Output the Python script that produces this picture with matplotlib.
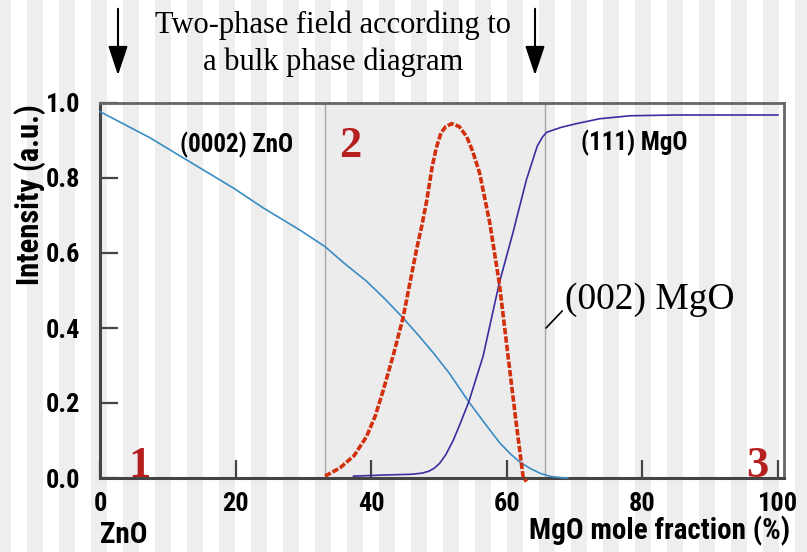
import matplotlib
matplotlib.use("Agg")
import matplotlib.pyplot as plt
from matplotlib import font_manager
from matplotlib.patches import Rectangle, FancyArrowPatch

# ---------------- data ----------------
zno_x = [0, 7.4, 12.8, 19.7, 24.1, 29.5, 33.2, 36, 39.3, 42, 44.7, 47, 49.2, 51.5, 54.4, 57, 59, 60.5, 61.9, 63.5, 65, 66.5, 68, 69]
zno_y = [0.977, 0.907, 0.848, 0.773, 0.72, 0.661, 0.617, 0.573, 0.525, 0.478, 0.427, 0.38, 0.333, 0.28, 0.203, 0.14, 0.093, 0.065, 0.043, 0.025, 0.012, 0.004, 0.001, 0.0]

mid_x = [33.2, 35.4, 37.5, 39.3, 40.6, 41.8, 43.3, 44.7, 46.7, 47.5, 48.2, 49.0, 49.6, 50.3, 51.0, 51.9, 53.0, 54.1, 55.0, 56.0, 57.5, 58.9, 60.2, 61.4, 62.4, 62.9]
mid_y = [0.005, 0.027, 0.06, 0.11, 0.165, 0.235, 0.33, 0.427, 0.61, 0.675, 0.74, 0.83, 0.88, 0.92, 0.937, 0.945, 0.937, 0.91, 0.87, 0.813, 0.68, 0.52, 0.324, 0.146, 0.005, -0.01]

mgo_x = [37.4, 42, 46, 47.5, 48.5, 49.3, 50.1, 51.0, 52.1, 53.2, 54.4, 56.5, 58.9, 60.9, 62.9, 64.5, 65.3, 65.9, 68, 70.3, 73.7, 78.2, 85, 90, 100]
mgo_y = [0.005, 0.008, 0.01, 0.013, 0.018, 0.026, 0.039, 0.062, 0.10, 0.148, 0.203, 0.324, 0.52, 0.653, 0.795, 0.885, 0.91, 0.922, 0.935, 0.945, 0.958, 0.966, 0.968, 0.968, 0.968]

two_phase = (33.2, 65.6)
xticks = [0, 20, 40, 60, 80, 100]
yticks = [0.0, 0.2, 0.4, 0.6, 0.8, 1.0]

# pick a condensed sans if one is installed
_names = {f.name for f in font_manager.fontManager.ttflist}
_cands = ['Liberation Sans Narrow', 'DejaVu Sans Condensed', 'Roboto Condensed', 'Open Sans Condensed',
          'Noto Sans Condensed', 'Liberation Sans', 'DejaVu Sans']
narrow_name = next(n for n in _cands if n in _names or n == 'DejaVu Sans')
is_condensed = narrow_name not in ('Liberation Sans', 'DejaVu Sans')
narrow = [narrow_name, 'DejaVu Sans']
k = 1.0 if is_condensed else 0.85
serif = ['Liberation Serif', 'DejaVu Serif']

fig = plt.figure(figsize=(8.07, 5.52), dpi=100)
fig.patch.set_facecolor('white')

# striped background
W = 807
s = -5
while s < W:
    fig.add_artist(Rectangle((s / W, 0), 16 / W, 1, transform=fig.transFigure,
                             facecolor='#eeeeee', edgecolor='none', zorder=-10))
    s += 32

ax = fig.add_axes([100 / 807, 74 / 552, 684 / 807, 375 / 552])
ax.set_facecolor('none')
ax.set_xlim(0, 100.9)
ax.set_ylim(0, 1.0)

ax.axvspan(two_phase[0], two_phase[1], facecolor='#ececec', edgecolor='#a8a8a8', lw=1.0, zorder=1)

ax.plot(zno_x, zno_y, color='#3a8cc2', lw=1.2, zorder=3, clip_on=False)
ax.plot(mgo_x, mgo_y, color='#3a2e9e', lw=1.2, zorder=3)
ax.plot(mid_x, mid_y, color='#d22f0c', lw=2.6, ls=(0, (1.8, 0.55)), zorder=4, clip_on=False)

for sp in ['left', 'bottom']:
    ax.spines[sp].set_color('#444444')
    ax.spines[sp].set_linewidth(2.2)
for sp in ['top', 'right']:
    ax.spines[sp].set_color('#666666')
    ax.spines[sp].set_linewidth(2.0)

ax.set_xticks(xticks)
ax.set_yticks(yticks)
ax.set_xticklabels([str(v) for v in xticks])
ax.set_yticklabels([f"{v:.1f}" for v in yticks])
ax.tick_params(axis='both', direction='in', length=13, width=1.6, color='#444444')
ax.tick_params(axis='y', pad=14)
ax.tick_params(axis='x', pad=10)
for lab in ax.get_xticklabels() + ax.get_yticklabels():
    lab.set_family(narrow)
    lab.set_fontweight('bold')
    lab.set_fontsize(19 * k)

# annotations
ax.text(20.2, 0.888, '(0002) ZnO', family=narrow, fontweight='bold', fontsize=18 * k, ha='center', va='center', zorder=5)
ax.text(78.8, 0.893, '(111) MgO', family=narrow, fontweight='bold', fontsize=18 * k, ha='center', va='center', zorder=5)
ax.annotate('(002) MgO', xy=(65.8, 0.40), xytext=(68.6, 0.475), family=serif, fontsize=27,
            ha='left', va='center', zorder=5,
            arrowprops=dict(arrowstyle='-', color='black', lw=1.2, shrinkA=0, shrinkB=0,
                            relpos=(0.03, 0.42)))
for txt, xx, yy in [('1', 5.9, 0.003), ('2', 36.9, 0.856), ('3', 96.9, 0.003)]:
    ax.text(xx, yy, txt, family=serif, fontweight='bold', fontsize=32, color='#b5201f',
            ha='center', va='baseline', zorder=6)

fig.text(30 / 807, 1 - 195 / 552, 'Intensity (a.u.)', rotation=90, family=narrow,
         fontweight='bold', fontsize=22 * k, ha='center', va='center')
fig.text(100 / 807, 1 - 535 / 552, 'ZnO', family=narrow, fontweight='bold', fontsize=21 * k, ha='left', va='center')
fig.text(790 / 807, 1 - 531 / 552, 'MgO mole fraction (%)', family=narrow, fontweight='bold', fontsize=21 * k,
         ha='right', va='center')

fig.text(333 / 807, 1 - 44 / 552, 'Two-phase field according to\na bulk phase diagram', family=serif,
         fontsize=22, ha='center', va='center', linespacing=1.35)

for px in [118, 535]:
    fig.add_artist(FancyArrowPatch((px / 807, 1 - 6 / 552), (px / 807, 1 - 78 / 552),
                                   transform=fig.transFigure, arrowstyle='-|>,head_length=0.9,head_width=0.3',
                                   mutation_scale=20, color='black', lw=1.5))

fig.savefig('out.png', dpi=100)
